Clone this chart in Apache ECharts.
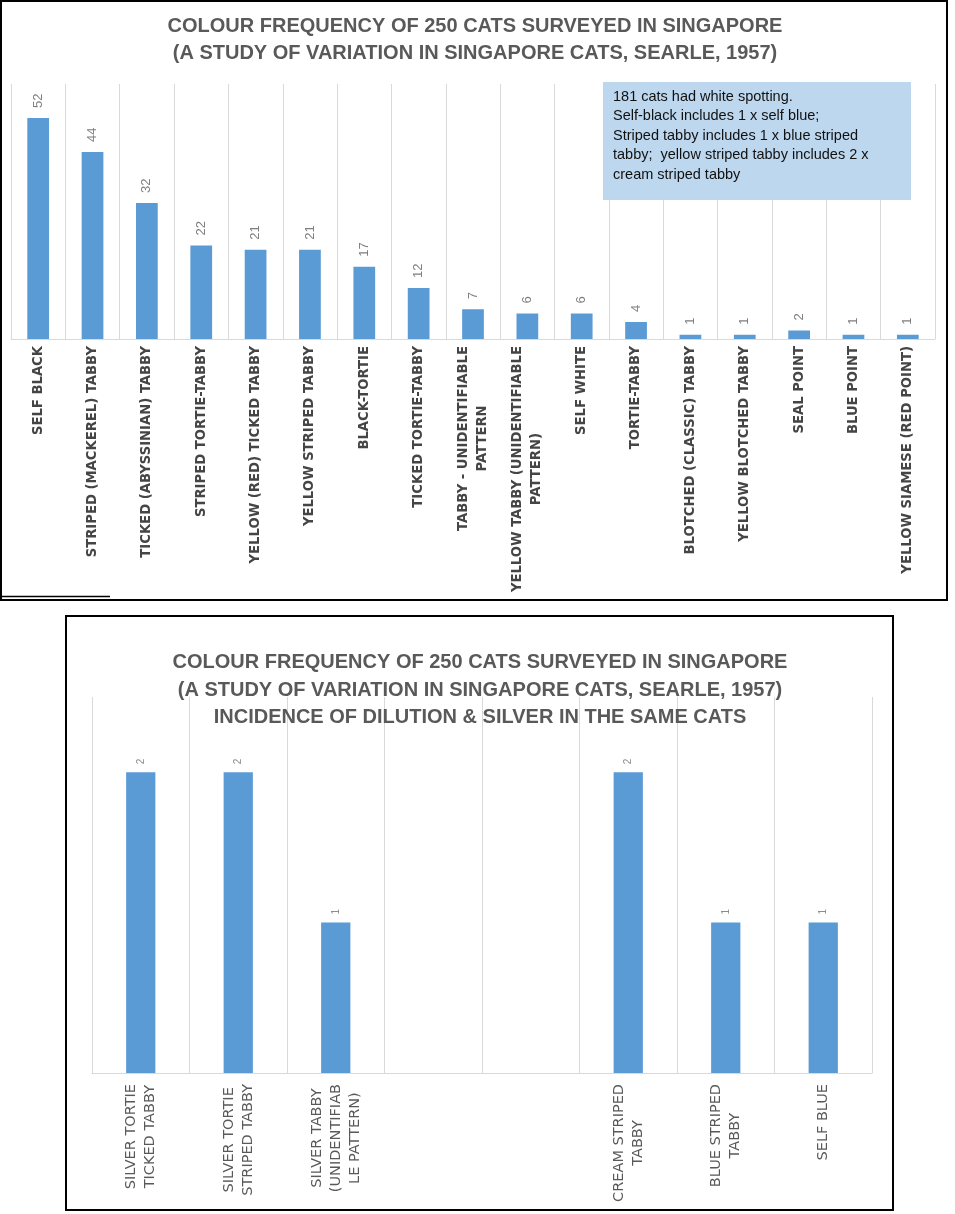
<!DOCTYPE html>
<html>
<head>
<meta charset="utf-8">
<script src="https://cdn.jsdelivr.net/npm/echarts@6/dist/echarts.min.js"></script>
<style>
html,body{margin:0;padding:0;background:#fff;}
#chart{width:955px;height:1214px;}
</style>
</head>
<body>
<div id="chart"></div>
<script>
// ---- Data ----
const colourCategories = [
  'SELF BLACK', 'STRIPED (MACKEREL) TABBY', 'TICKED (ABYSSINIAN) TABBY', 'STRIPED TORTIE-TABBY',
  'YELLOW (RED) TICKED TABBY', 'YELLOW STRIPED TABBY', 'BLACK-TORTIE', 'TICKED TORTIE-TABBY',
  'TABBY - UNIDENTIFIABLE PATTERN', 'YELLOW TABBY (UNIDENTIFIABLE PATTERN)', 'SELF WHITE', 'TORTIE-TABBY',
  'BLOTCHED (CLASSIC) TABBY', 'YELLOW BLOTCHED TABBY', 'SEAL POINT', 'BLUE POINT', 'YELLOW SIAMESE (RED POINT)'
];
const colourCounts = [52, 44, 32, 22, 21, 21, 17, 12, 7, 6, 6, 4, 1, 1, 2, 1, 1];

const dilutionCategories = [
  'SILVER TORTIE TICKED TABBY', 'SILVER TORTIE STRIPED TABBY', 'SILVER TABBY (UNIDENTIFIABLE PATTERN)',
  '', '', 'CREAM STRIPED TABBY', 'BLUE STRIPED TABBY', 'SELF BLUE'
];
const dilutionCounts = [2, 2, 1, null, null, 2, 1, 1];

const title1 = 'COLOUR FREQUENCY OF 250 CATS SURVEYED IN SINGAPORE\n(A STUDY OF VARIATION IN SINGAPORE CATS, SEARLE, 1957)';
const title2 = 'COLOUR FREQUENCY OF 250 CATS SURVEYED IN SINGAPORE\n(A STUDY OF VARIATION IN SINGAPORE CATS, SEARLE, 1957)\nINCIDENCE OF DILUTION & SILVER IN THE SAME CATS';
const noteText = '181 cats had white spotting.\nSelf-black includes 1 x self blue;\nStriped tabby includes 1 x blue striped\ntabby;  yellow striped tabby includes 2 x\ncream striped tabby';

// ---- Helpers ----
function wrapLabel(text, maxChars) {
  const words = text.split(' ');
  const lines = [];
  let line = '';
  for (let w of words) {
    while (true) {
      const cand = line ? line + ' ' + w : w;
      if (cand.length <= maxChars) { line = cand; break; }
      if (line) { lines.push(line); line = ''; continue; }
      lines.push(w.slice(0, maxChars));
      w = w.slice(maxChars);
      if (!w) break;
    }
  }
  if (line) lines.push(line);
  return lines;
}
function richWrap(maxChars) {
  return function (v) {
    const lines = wrapLabel(v, maxChars);
    if (!lines.length) return '';
    return lines.map(l => '{c|' + l + '}').join('\n');
  };
}

const BAR = '#5B9BD5';
const GRID = '#D9D9D9';
const TITLE_FONT = 'Liberation Sans';

const chart = echarts.init(document.getElementById('chart'), null, {renderer: 'canvas'});

const option = {
  backgroundColor: '#fff',
  animation: false,
  title: [
    {
      text: title1, left: 470, top: 8, textAlign: 'center',
      textStyle: {fontFamily: TITLE_FONT, fontSize: 20, fontWeight: 'bold', color: '#595959', lineHeight: 27}
    },
    {
      text: title2, left: 475, top: 644, textAlign: 'center',
      textStyle: {fontFamily: TITLE_FONT, fontSize: 20, fontWeight: 'bold', color: '#595959', lineHeight: 27.5}
    }
  ],
  grid: [
    {left: 11, top: 84, width: 924, height: 255, containLabel: false, outerBoundsMode: 'none'},
    {left: 92, top: 697, width: 780, height: 376, containLabel: false, outerBoundsMode: 'none'}
  ],
  xAxis: [
    {
      type: 'category', gridIndex: 0, data: colourCategories,
      axisLine: {lineStyle: {color: GRID, width: 1}},
      axisTick: {show: false},
      splitLine: {show: true, lineStyle: {color: GRID, width: 1}},
      axisLabel: {
        interval: 0, rotate: 90, margin: 7,
        formatter: richWrap(28),
        rich: {c: {align: 'center', fontFamily: 'DejaVu Sans', fontWeight: 'bold', fontSize: 13.2, color: '#454545', lineHeight: 19}}
      }
    },
    {
      type: 'category', gridIndex: 1, data: dilutionCategories,
      axisLine: {lineStyle: {color: GRID, width: 1}},
      axisTick: {show: false},
      splitLine: {show: true, lineStyle: {color: GRID, width: 1}},
      axisLabel: {
        interval: 0, rotate: 90, margin: 11,
        formatter: richWrap(13),
        rich: {c: {align: 'center', fontFamily: 'DejaVu Sans', fontSize: 14.5, color: '#595959', lineHeight: 19}}
      }
    }
  ],
  yAxis: [
    {type: 'value', gridIndex: 0, min: 0, max: 60, show: false, splitLine: {show: false}},
    {type: 'value', gridIndex: 1, min: 0, max: 2.5, show: false, splitLine: {show: false}}
  ],
  series: [
    {
      type: 'bar', xAxisIndex: 0, yAxisIndex: 0, data: colourCounts, barWidth: '40%',
      itemStyle: {color: BAR},
      label: {
        show: true, position: 'top', distance: 10, rotate: 90, align: 'left', verticalAlign: 'middle',
        fontFamily: 'Liberation Sans', fontSize: 13, color: '#7f7f7f'
      }
    },
    {
      type: 'bar', xAxisIndex: 1, yAxisIndex: 1, data: dilutionCounts, barWidth: '30%',
      itemStyle: {color: BAR},
      label: {
        show: true, position: 'top', distance: 8, rotate: 90, align: 'left', verticalAlign: 'middle',
        fontFamily: 'Liberation Sans', fontSize: 10, color: '#8c8c8c'
      }
    }
  ],
  graphic: [
    {type: 'rect', shape: {x: 1, y: 1, width: 946, height: 599}, style: {fill: 'none', stroke: '#000', lineWidth: 2}, z: 100},
    {type: 'line', shape: {x1: 0, y1: 596.5, x2: 110, y2: 596.5}, style: {stroke: '#000', lineWidth: 1.5}, z: 100},
    {type: 'rect', shape: {x: 66, y: 616, width: 827, height: 594}, style: {fill: 'none', stroke: '#000', lineWidth: 2}, z: 100},
    {type: 'rect', shape: {x: 603, y: 82, width: 308, height: 118}, style: {fill: '#BDD7EE'}, z: 50},
    {
      type: 'text', x: 613, y: 87, z: 51,
      style: {text: noteText, fontFamily: 'Liberation Sans', fontSize: 14.5, lineHeight: 19.5, fill: '#111', verticalAlign: 'top', align: 'left'}
    }
  ]
};
chart.setOption(option);
</script>
</body>
</html>
